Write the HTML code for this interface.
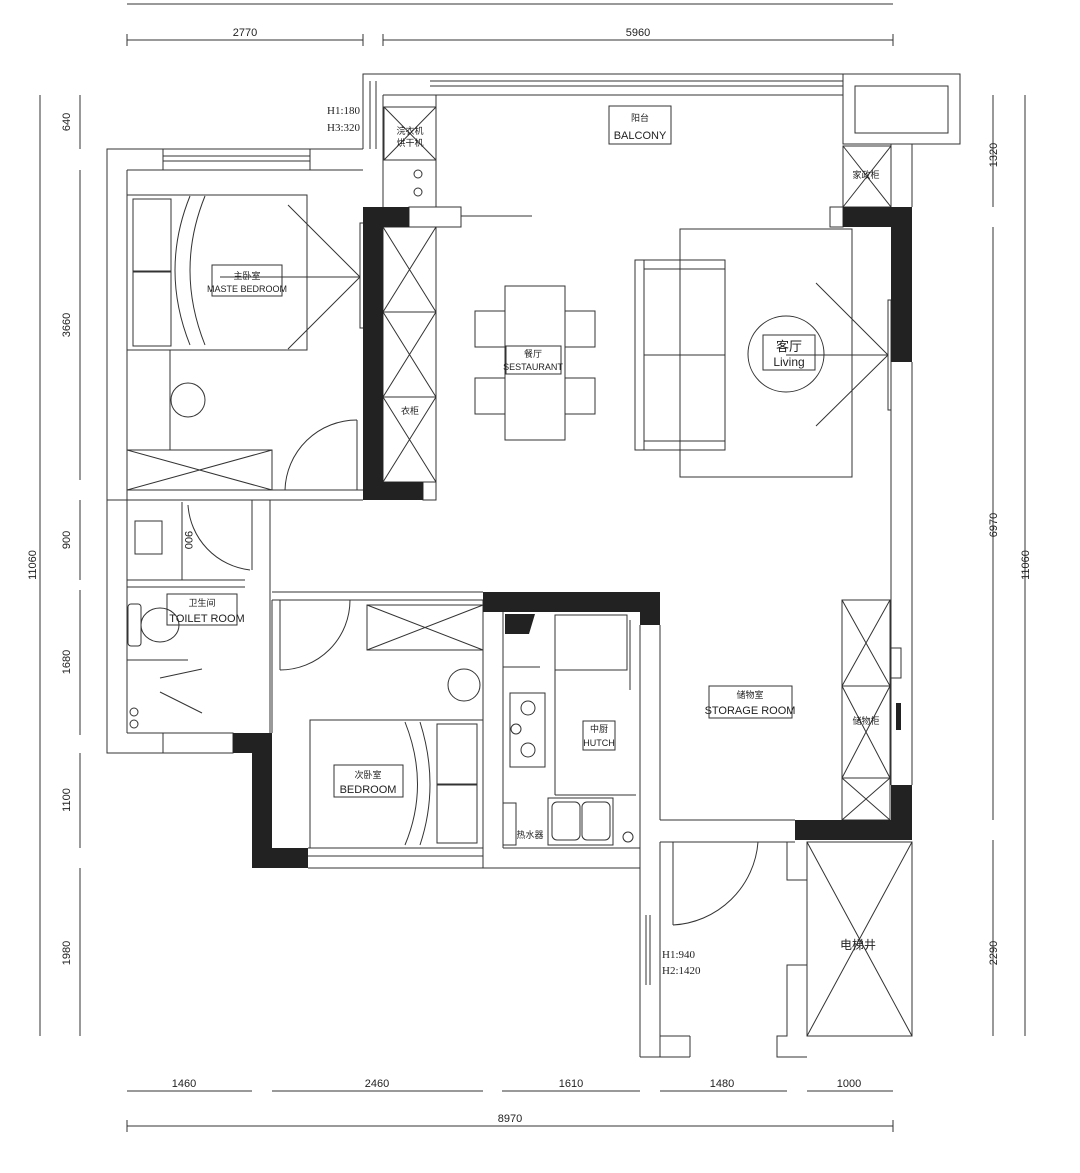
<!DOCTYPE html>
<html><head><meta charset="utf-8"><style>
html,body{margin:0;padding:0;background:#fff;}
svg{display:block;}
text{font-family:"Liberation Sans","Noto Sans CJK SC",sans-serif;fill:#222;}
.t{font-size:11px;}
.s{font-size:9px;}
</style></head><body>
<svg width="1080" height="1173" viewBox="0 0 1080 1173" xmlns="http://www.w3.org/2000/svg">
<g fill="none" stroke="#333" stroke-width="1">
<!-- dimension lines top -->
<line x1="127" y1="4" x2="893" y2="4"/>
<line x1="127" y1="40" x2="363" y2="40"/><line x1="383" y1="40" x2="893" y2="40"/>
<line x1="127" y1="34" x2="127" y2="46"/><line x1="363" y1="34" x2="363" y2="46"/><line x1="383" y1="34" x2="383" y2="46"/><line x1="893" y1="34" x2="893" y2="46"/>
<!-- bottom dims -->
<line x1="127" y1="1091" x2="252" y2="1091"/><line x1="272" y1="1091" x2="483" y2="1091"/><line x1="502" y1="1091" x2="640" y2="1091"/><line x1="660" y1="1091" x2="787" y2="1091"/><line x1="807" y1="1091" x2="893" y2="1091"/>
<line x1="127" y1="1126" x2="893" y2="1126"/>
<line x1="127" y1="1120" x2="127" y2="1132"/><line x1="893" y1="1120" x2="893" y2="1132"/>
<!-- left dims -->
<line x1="40" y1="95" x2="40" y2="1036"/>
<line x1="80" y1="95" x2="80" y2="149"/><line x1="80" y1="170" x2="80" y2="480"/><line x1="80" y1="500" x2="80" y2="580"/><line x1="80" y1="590" x2="80" y2="735"/><line x1="80" y1="753" x2="80" y2="848"/><line x1="80" y1="868" x2="80" y2="1036"/>
<!-- right dims -->
<line x1="1025" y1="95" x2="1025" y2="1036"/>
<line x1="993" y1="95" x2="993" y2="207"/><line x1="993" y1="227" x2="993" y2="820"/><line x1="993" y1="840" x2="993" y2="1036"/>

<!-- master bedroom outer -->
<polyline points="363,149 107,149 107,753 233,753"/>
<line x1="127" y1="170" x2="363" y2="170"/>
<line x1="127" y1="170" x2="127" y2="733"/>
<rect x="163" y="149" width="147" height="21"/>
<line x1="163" y1="156" x2="310" y2="156"/><line x1="163" y1="161" x2="310" y2="161"/>
<!-- balcony -->
<polyline points="363,149 363,74 960,74 960,144 912,144"/>
<line x1="383" y1="95" x2="843" y2="95"/>
<line x1="383" y1="95" x2="383" y2="207"/>
<line x1="370" y1="81" x2="370" y2="149"/><line x1="376" y1="81" x2="376" y2="149"/>
<line x1="430" y1="81" x2="843" y2="81"/><line x1="430" y1="86" x2="843" y2="86"/>
<rect x="843" y="74" width="117" height="70"/>
<rect x="855" y="86" width="93" height="47"/>
<!-- washer column -->
<rect x="384" y="107" width="52" height="53"/>
<line x1="384" y1="107" x2="436" y2="160"/><line x1="436" y1="107" x2="384" y2="160"/>
<line x1="436" y1="95" x2="436" y2="207"/>
<rect x="409" y="207" width="52" height="20"/>
<line x1="461" y1="216" x2="532" y2="216"/>
<circle cx="418" cy="174" r="4"/><circle cx="418" cy="192" r="4"/>
<!-- wardrobe -->
<rect x="383" y="227" width="53" height="255"/>
<line x1="383" y1="312" x2="436" y2="312"/><line x1="383" y1="397" x2="436" y2="397"/>
<path d="M383 227 L436 312 M436 227 L383 312 M383 312 L436 397 M436 312 L383 397 M383 397 L436 482 M436 397 L383 482"/>
<rect x="423" y="482" width="13" height="18"/>
<!-- master bed -->
<rect x="127" y="195" width="180" height="155"/>
<rect x="133" y="199" width="38" height="72"/><rect x="133" y="272" width="38" height="74"/>
<path d="M190 196 Q160 270 190 345 M205 196 Q175 270 205 345"/>
<line x1="288" y1="205" x2="360" y2="277"/><line x1="288" y1="349" x2="360" y2="277"/>
<line x1="220" y1="277" x2="360" y2="277"/>
<rect x="360" y="223" width="4" height="105"/>
<line x1="170" y1="350" x2="170" y2="450"/>
<circle cx="188" cy="400" r="17"/>
<rect x="127" y="450" width="145" height="40"/>
<path d="M127 450 L272 490 M127 490 L272 450"/>
<path d="M285 490 A72 72 0 0 1 357 420"/>
<line x1="357" y1="420" x2="357" y2="490"/>
<line x1="272" y1="490" x2="363" y2="490"/><line x1="272" y1="500" x2="363" y2="500"/>
<!-- bathroom -->
<line x1="107" y1="500" x2="272" y2="500"/>
<line x1="127" y1="502" x2="127" y2="733"/>
<line x1="270" y1="500" x2="270" y2="733"/><line x1="252" y1="500" x2="252" y2="570"/>
<rect x="135" y="521" width="27" height="33"/>
<line x1="182" y1="502" x2="182" y2="580"/>
<path d="M188 505 A70 70 0 0 0 250 570"/>
<line x1="127" y1="580" x2="245" y2="580"/><line x1="127" y1="587" x2="245" y2="587"/>
<rect x="128" y="604" width="13" height="42" rx="3"/>
<ellipse cx="160" cy="625" rx="19" ry="17"/>
<line x1="127" y1="660" x2="188" y2="660"/>
<line x1="160" y1="678" x2="202" y2="669"/><line x1="160" y1="692" x2="202" y2="713"/>
<circle cx="134" cy="712" r="4"/><circle cx="134" cy="724" r="4"/>
<line x1="127" y1="733" x2="233" y2="733"/>
<rect x="163" y="733" width="70" height="20"/>
<!-- bedroom 2 -->
<line x1="272" y1="592" x2="483" y2="592"/><line x1="272" y1="600" x2="483" y2="600"/>
<line x1="272" y1="600" x2="272" y2="733"/>
<path d="M280 670 A70 70 0 0 0 350 600"/><line x1="280" y1="600" x2="280" y2="670"/>
<rect x="367" y="605" width="116" height="45"/>
<path d="M367 605 L483 650 M367 650 L483 605"/>
<circle cx="464" cy="685" r="16"/>
<rect x="310" y="720" width="173" height="128"/>
<rect x="437" y="724" width="40" height="60"/><rect x="437" y="785" width="40" height="58"/>
<path d="M420 722 Q440 785 420 845 M405 722 Q430 785 405 845"/>
<line x1="308" y1="848" x2="483" y2="848"/><line x1="308" y1="868" x2="483" y2="868"/>
<line x1="308" y1="856" x2="483" y2="856"/>
<line x1="483" y1="600" x2="483" y2="868"/>
<!-- kitchen -->
<line x1="503" y1="612" x2="503" y2="848"/>
<line x1="503" y1="848" x2="640" y2="848"/><line x1="483" y1="868" x2="640" y2="868"/>
<rect x="555" y="615" width="72" height="55"/>
<line x1="555" y1="670" x2="555" y2="795"/><line x1="555" y1="795" x2="636" y2="795"/>
<line x1="630" y1="620" x2="630" y2="690"/>
<rect x="510" y="693" width="35" height="74"/>
<circle cx="528" cy="708" r="7"/><circle cx="528" cy="750" r="7"/><circle cx="516" cy="729" r="5"/>
<rect x="548" y="798" width="65" height="47"/>
<rect x="552" y="802" width="28" height="38" rx="5"/><rect x="582" y="802" width="28" height="38" rx="5"/>
<rect x="503" y="803" width="13" height="42"/>
<circle cx="628" cy="837" r="5"/>
<line x1="503" y1="667" x2="540" y2="667"/>
<line x1="640" y1="625" x2="640" y2="868"/><line x1="660" y1="625" x2="660" y2="820"/>
<line x1="660" y1="612" x2="893" y2="612" stroke="none"/>
<!-- right side -->
<line x1="891" y1="144" x2="891" y2="207"/><line x1="912" y1="144" x2="912" y2="207"/>
<rect x="843" y="146" width="48" height="61"/>
<path d="M843 146 L891 207 M891 146 L843 207"/>
<rect x="830" y="207" width="13" height="20"/>
<line x1="891" y1="362" x2="891" y2="785"/><line x1="912" y1="362" x2="912" y2="785"/>
<rect x="888" y="300" width="3" height="110"/>
<rect x="842" y="600" width="48" height="220"/>
<line x1="842" y1="686" x2="890" y2="686"/><line x1="842" y1="778" x2="890" y2="778"/>
<path d="M842 600 L890 686 M890 600 L842 686 M842 686 L890 778 M890 686 L842 778 M842 778 L890 820 M890 778 L842 820"/>
<rect x="891" y="648" width="10" height="30"/>
<!-- living -->
<rect x="680" y="229" width="172" height="248"/>
<rect x="635" y="260" width="90" height="190"/>
<line x1="644" y1="260" x2="644" y2="450"/><line x1="644" y1="269" x2="725" y2="269"/><line x1="644" y1="441" x2="725" y2="441"/><line x1="644" y1="355" x2="725" y2="355"/>
<line x1="816" y1="283" x2="888" y2="355"/><line x1="816" y1="426" x2="888" y2="355"/><line x1="786" y1="355" x2="888" y2="355"/>
<circle cx="786" cy="354" r="38"/>
<!-- dining -->
<rect x="505" y="286" width="60" height="154"/>
<rect x="475" y="311" width="30" height="36"/><rect x="475" y="378" width="30" height="36"/>
<rect x="565" y="311" width="30" height="36"/><rect x="565" y="378" width="30" height="36"/>
<!-- storage bottom / entry -->
<line x1="660" y1="820" x2="795" y2="820"/><line x1="660" y1="842" x2="795" y2="842"/>
<line x1="660" y1="842" x2="660" y2="1057"/><line x1="640" y1="868" x2="640" y2="1057"/>
<line x1="640" y1="1057" x2="690" y2="1057"/><line x1="690" y1="1036" x2="690" y2="1057"/><line x1="660" y1="1036" x2="690" y2="1036"/>
<path d="M673 925 A90 90 0 0 0 758 842"/><line x1="673" y1="842" x2="673" y2="925"/>
<polyline points="787,842 787,880 807,880"/>
<polyline points="807,965 787,965 787,1036 777,1036 777,1057 807,1057"/>
<line x1="646" y1="915" x2="646" y2="985"/><line x1="650" y1="915" x2="650" y2="985"/>
<rect x="807" y="842" width="105" height="194"/>
<path d="M807 842 L912 1036 M912 842 L807 1036"/>
<!-- label boxes -->
<rect x="212" y="265" width="70" height="31"/>
<rect x="609" y="106" width="62" height="38"/>
<rect x="506" y="346" width="55" height="28"/>
<rect x="763" y="335" width="52" height="35"/>
<rect x="167" y="594" width="70" height="31"/>
<rect x="334" y="765" width="69" height="32"/>
<rect x="583" y="721" width="32" height="29"/>
<rect x="709" y="686" width="83" height="32"/>
</g>
<!-- black walls -->
<g fill="#222">
<path d="M363 207 H409 V227 H383 V482 H423 V500 H363 Z"/>
<path d="M843 207 H912 V362 H891 V227 H843 Z"/>
<path d="M483 592 H660 V625 H640 V612 H483 Z"/>
<path d="M795 820 H891 V785 H912 V840 H795 Z"/>
<path d="M233 733 H272 V848 H308 V868 H252 V753 H233 Z"/>
<path d="M505 614 H535 L529 634 H505 Z"/>
<rect x="896" y="703" width="5" height="27"/>
</g>
<!-- text -->
<g text-anchor="middle">
<text class="t" x="245" y="36">2770</text><text class="t" x="638" y="36">5960</text>
<text class="t" x="184" y="1087">1460</text><text class="t" x="377" y="1087">2460</text><text class="t" x="571" y="1087">1610</text><text class="t" x="722" y="1087">1480</text><text class="t" x="849" y="1087">1000</text>
<text class="t" x="510" y="1122">8970</text>
<text class="t" transform="translate(36,565) rotate(-90)">11060</text>
<text class="t" transform="translate(70,122) rotate(-90)">640</text>
<text class="t" transform="translate(70,325) rotate(-90)">3660</text>
<text class="t" transform="translate(70,540) rotate(-90)">900</text>
<text class="t" transform="translate(70,662) rotate(-90)">1680</text>
<text class="t" transform="translate(70,800) rotate(-90)">1100</text>
<text class="t" transform="translate(70,953) rotate(-90)">1980</text>
<text class="t" transform="translate(1029,565) rotate(-90)">11060</text>
<text class="t" transform="translate(997,155) rotate(-90)">1320</text>
<text class="t" transform="translate(997,525) rotate(-90)">6970</text>
<text class="t" transform="translate(997,953) rotate(-90)">2290</text>
<text class="t" transform="translate(185,540) rotate(90)">900</text>
<text class="s" x="247" y="279">主卧室</text><text class="s" x="247" y="292">MASTE BEDROOM</text>
<text class="s" x="640" y="121">阳台</text><text class="t" x="640" y="139">BALCONY</text>
<text class="s" x="533" y="357">餐厅</text><text class="s" x="533" y="370">SESTAURANT</text>
<text x="789" y="351" style="font-size:13px">客厅</text><text x="789" y="366" style="font-size:12px">Living</text>
<text class="s" x="202" y="606">卫生间</text><text class="t" x="207" y="622">TOILET ROOM</text>
<text class="s" x="368" y="778">次卧室</text><text class="t" x="368" y="793">BEDROOM</text>
<text class="s" x="599" y="732">中厨</text><text class="s" x="599" y="746">HUTCH</text>
<text class="s" x="750" y="698">储物室</text><text class="t" x="750" y="714">STORAGE ROOM</text>
<text class="s" x="866" y="724">储物柜</text>
<text class="s" x="866" y="178">家政柜</text>
<text class="s" x="410" y="414">衣柜</text>
<text class="s" x="410" y="134">浣衣机</text><text class="s" x="410" y="146">烘干机</text>
<text class="s" x="530" y="838">热水器</text>
<text style="font-size:12px" x="858" y="949">电梯井</text>
</g>
<g style="font-family:'Liberation Serif',serif;font-size:11px">
<text x="327" y="114" style="font-family:'Liberation Serif',serif">H1:180</text>
<text x="327" y="131" style="font-family:'Liberation Serif',serif">H3:320</text>
<text x="662" y="958" style="font-family:'Liberation Serif',serif">H1:940</text>
<text x="662" y="974" style="font-family:'Liberation Serif',serif">H2:1420</text>
</g>
</svg>
</body></html>
